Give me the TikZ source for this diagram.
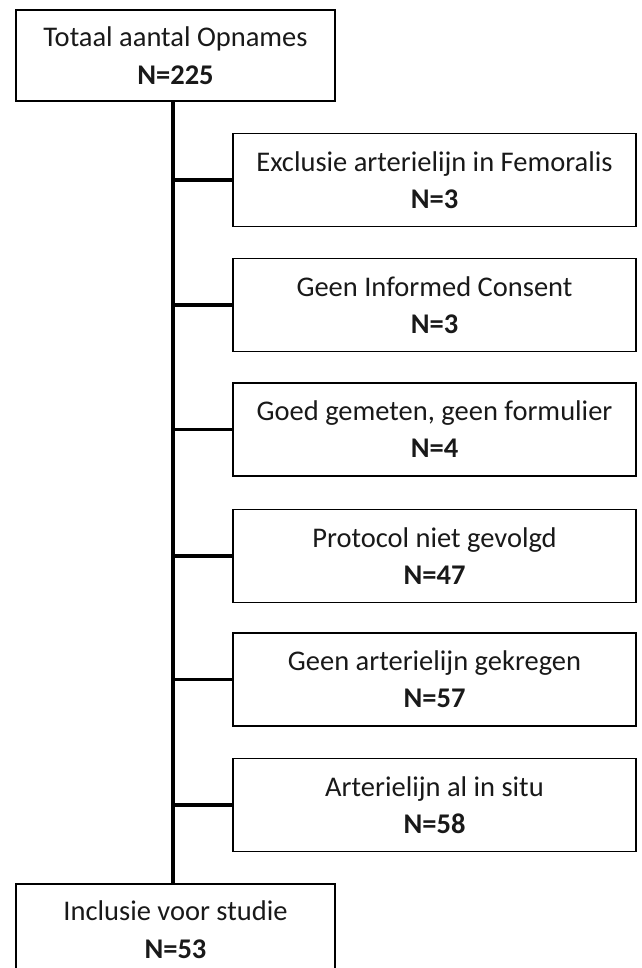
\documentclass[tikz,border=0pt]{standalone}
\usepackage{fontspec}
\setmainfont{Carlito}
\begin{document}
\begin{tikzpicture}[x=1pt,y=-1pt,
  box/.style={draw=black, line width=1.8pt, rectangle, inner sep=0pt, align=center,
    text=black!90, font=\fontsize{28.5}{37}\selectfont},
  topbox/.style={box, minimum width=319pt, minimum height=91pt, font=\fontsize{28.5}{38.5}\selectfont},
  sidebox/.style={box, minimum width=403pt, minimum height=93pt},
  trunk/.style={line width=4.5pt},
  branch/.style={line width=3.5pt}]
\useasboundingbox (0,0) rectangle (641,968);
\coordinate (tx) at (173,0);
\node[topbox] (top) at (175.5,55.5) {Totaal aantal Opnames\\\textbf{N=225}};
\node[sidebox] (b1) at (434.5,180) {Exclusie arterielijn in Femoralis\\\textbf{N=3}};
\node[sidebox] (b2) at (434.5,305) {Geen Informed Consent\\\textbf{N=3}};
\node[sidebox] (b3) at (434.5,429.5) {Goed gemeten, geen formulier\\\textbf{N=4}};
\node[sidebox] (b4) at (434.5,556) {Protocol niet gevolgd\\\textbf{N=47}};
\node[sidebox] (b5) at (434.5,679.5) {Geen arterielijn gekregen\\\textbf{N=57}};
\node[sidebox] (b6) at (434.5,805) {Arterielijn al in situ\\\textbf{N=58}};
\node[topbox] (bot) at (175.5,929.5) {Inclusie voor studie\\\textbf{N=53}};
\draw[trunk] (top.south -| tx) -- (bot.north -| tx);
\foreach \b in {b1,b2,b3,b4,b5,b6}{
  \draw[branch] (\b.west) -- (\b.west -| tx);
}
\end{tikzpicture}
\end{document}
